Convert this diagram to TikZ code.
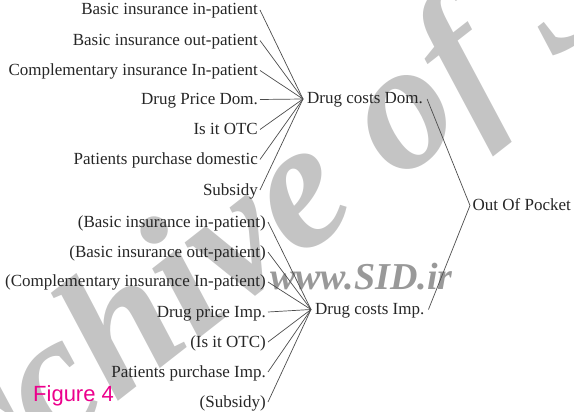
\documentclass[tikz,border=0pt]{standalone}
\usepackage{fontspec}
\setmainfont{Liberation Serif}
\newfontfamily\figfont{Liberation Sans}
\begin{document}
\begin{tikzpicture}[x=1pt,y=-1pt,
 lab/.style={font=\fontsize{17}{20}\selectfont, text=black!85, inner xsep=2pt, inner ysep=0pt, text height=10pt, text depth=0pt},
 lft/.style={lab, anchor=base east},
 mid/.style={lab, anchor=base west, inner xsep=4pt},
 conn/.style={draw=black!70, line width=0.7pt},
 wmark/.style={inner sep=0pt}]
\useasboundingbox (0,0) rectangle (574,412);
% watermark
\begin{scope}
\clip (0,0) rectangle (574,412);
\node[wmark, anchor=base west, rotate=38, text=black!23, font=\fontsize{182}{182}\selectfont\bfseries\itshape] (wm) at (-100,572) {Archive of SID};
\end{scope}
\node[wmark, anchor=base west, text=black!40, font=\fontsize{38}{38}\selectfont\bfseries\itshape] (sid) at (270,289) {www.SID.ir};
\node[anchor=base west, inner sep=0pt, text=magenta, font=\figfont\fontsize{22}{22}\selectfont] (fig) at (33,401.5) {Figure 4};
% top group
\node[lft] (a1) at (260,15) {Basic insurance in-patient};
\node[lft] (a2) at (260,45.5) {Basic insurance out-patient};
\node[lft] (a3) at (260,75.5) {Complementary insurance In-patient};
\node[lft] (a4) at (260,104.5) {Drug Price Dom.};
\node[lft] (a5) at (260,134.5) {Is it OTC};
\node[lft] (a6) at (260,164.5) {Patients purchase domestic};
\node[lft] (a7) at (260,195) {Subsidy};
% bottom group
\node[lft] (b1) at (268,227) {(Basic insurance in-patient)};
\node[lft] (b2) at (268,257) {(Basic insurance out-patient)};
\node[lft] (b3) at (268,287) {(Complementary insurance In-patient)};
\node[lft] (b4) at (268,317) {Drug price Imp.};
\node[lft] (b5) at (268,347) {(Is it OTC)};
\node[lft] (b6) at (268,377) {Patients purchase Imp.};
\node[lft] (b7) at (268,407) {(Subsidy)};
% middle and right
\node[mid] (dom) at (303,104) {Drug costs Dom.};
\node[mid] (imp) at (311,314.5) {Drug costs Imp.};
\node[mid, inner xsep=2.5pt] (oop) at (470,210.5) {Out Of Pocket};
% connectors
\foreach \n in {a1,a2,a3,a4,a5,a6,a7} \draw[conn] (\n.east) -- (dom.west);
\foreach \n in {b1,b2,b3,b4,b5,b6,b7} \draw[conn] (\n.east) -- (imp.west);
\draw[conn] (dom.east) -- (oop.west);
\draw[conn] (imp.east) -- (oop.west);
\end{tikzpicture}
\end{document}
